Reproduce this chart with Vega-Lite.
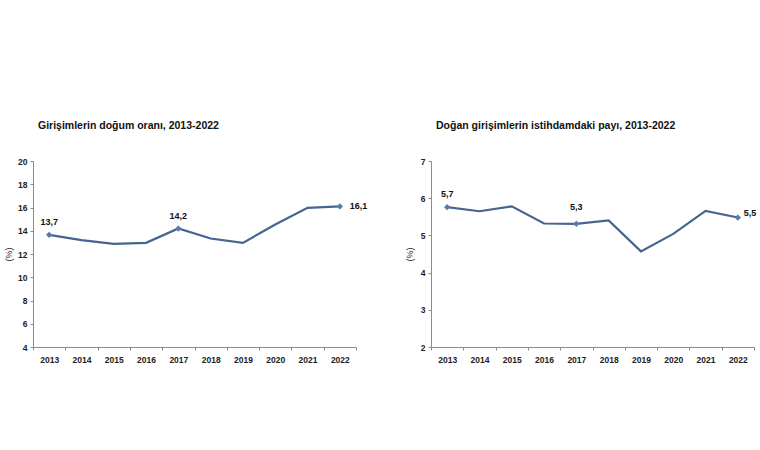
{
  "$schema": "https://vega.github.io/schema/vega-lite/v6.json",
  "background": "white",
  "padding": {"left": 4, "top": 120, "right": 0, "bottom": 0},
  "bounds": "flush",
  "spacing": 75,
  "datasets": {
    "birth": [
      {"year": "2013", "value": 13.65, "label": "13,7"},
      {"year": "2014", "value": 13.19, "label": ""},
      {"year": "2015", "value": 12.87, "label": ""},
      {"year": "2016", "value": 12.96, "label": ""},
      {"year": "2017", "value": 14.19, "label": "14,2"},
      {"year": "2018", "value": 13.33, "label": ""},
      {"year": "2019", "value": 12.96, "label": ""},
      {"year": "2020", "value": 14.54, "label": ""},
      {"year": "2021", "value": 15.97, "label": ""},
      {"year": "2022", "value": 16.09, "label": "16,1"}
    ],
    "share": [
      {"year": "2013", "value": 5.76, "label": "5,7"},
      {"year": "2014", "value": 5.65, "label": ""},
      {"year": "2015", "value": 5.78, "label": ""},
      {"year": "2016", "value": 5.32, "label": ""},
      {"year": "2017", "value": 5.31, "label": "5,3"},
      {"year": "2018", "value": 5.4, "label": ""},
      {"year": "2019", "value": 4.57, "label": ""},
      {"year": "2020", "value": 5.04, "label": ""},
      {"year": "2021", "value": 5.66, "label": ""},
      {"year": "2022", "value": 5.48, "label": "5,5"}
    ]
  },
  "config": {
    "font": "Liberation Sans",
    "view": {"stroke": null},
    "axis": {
      "grid": false,
      "domainColor": "#8c8c8c",
      "tickColor": "#8c8c8c",
      "tickSize": 3,
      "labelFont": "Liberation Sans",
      "labelFontWeight": "bold",
      "labelFontSize": 8.5,
      "labelColor": "#222"
    },
    "title": {
      "font": "Liberation Sans",
      "fontSize": 10.5,
      "fontWeight": "bold",
      "color": "#111",
      "anchor": "start",
      "frame": "group",
      "offset": 26,
      "dx": 5
    }
  },
  "hconcat": [
    {
      "title": "Girişimlerin doğum oranı, 2013-2022",
      "width": 323,
      "height": 186,
      "data": {"name": "birth"},
      "encoding": {
        "x": {"field": "year", "type": "ordinal", "bandPosition": 0.5,
              "scale": {"type": "band", "paddingInner": 0, "paddingOuter": 0},
              "axis": {"title": null, "labelAngle": 0, "tickBand": "extent", "labelPadding": 5}},
        "y": {"field": "value", "type": "quantitative",
              "scale": {"domain": [4, 20], "nice": false, "zero": false},
              "axis": {"title": "(%)", "values": [4, 6, 8, 10, 12, 14, 16, 18, 20], "labelPadding": 3,
                       "titleFontWeight": "normal", "titleFontSize": 9, "titlePadding": 4, "titleColor": "#222"}}
      },
      "layer": [
        {"mark": {"type": "line", "color": "#46648f", "strokeWidth": 2.2}},
        {"transform": [{"filter": "datum.label != ''"}],
         "mark": {"type": "point", "shape": "diamond", "filled": true, "size": 40, "color": "#5b78a8", "opacity": 1}},
        {"transform": [{"filter": "datum.label != '' && datum.year != '2022'"}],
         "mark": {"type": "text", "dy": -13, "fontSize": 9, "fontWeight": "bold", "color": "#111"},
         "encoding": {"text": {"field": "label"}}},
        {"transform": [{"filter": "datum.year == '2022'"}],
         "mark": {"type": "text", "dx": 10, "align": "left", "fontSize": 9, "fontWeight": "bold", "color": "#111"},
         "encoding": {"text": {"field": "label"}}}
      ]
    },
    {
      "title": "Doğan girişimlerin istihdamdaki payı, 2013-2022",
      "width": 323,
      "height": 186,
      "data": {"name": "share"},
      "encoding": {
        "x": {"field": "year", "type": "ordinal", "bandPosition": 0.5,
              "scale": {"type": "band", "paddingInner": 0, "paddingOuter": 0},
              "axis": {"title": null, "labelAngle": 0, "tickBand": "extent", "labelPadding": 5}},
        "y": {"field": "value", "type": "quantitative",
              "scale": {"domain": [2, 7], "nice": false, "zero": false},
              "axis": {"title": "(%)", "values": [2, 3, 4, 5, 6, 7], "labelPadding": 3,
                       "titleFontWeight": "normal", "titleFontSize": 9, "titlePadding": 6, "titleColor": "#222"}}
      },
      "layer": [
        {"mark": {"type": "line", "color": "#46648f", "strokeWidth": 2.2}},
        {"transform": [{"filter": "datum.label != ''"}],
         "mark": {"type": "point", "shape": "diamond", "filled": true, "size": 40, "color": "#5b78a8", "opacity": 1}},
        {"transform": [{"filter": "datum.year == '2013'"}],
         "mark": {"type": "text", "dy": -13, "fontSize": 9, "fontWeight": "bold", "color": "#111"},
         "encoding": {"text": {"field": "label"}}},
        {"transform": [{"filter": "datum.year == '2017'"}],
         "mark": {"type": "text", "dy": -17, "fontSize": 9, "fontWeight": "bold", "color": "#111"},
         "encoding": {"text": {"field": "label"}}},
        {"transform": [{"filter": "datum.year == '2022'"}],
         "mark": {"type": "text", "dx": 6, "dy": -5, "align": "left", "fontSize": 9, "fontWeight": "bold", "color": "#111"},
         "encoding": {"text": {"field": "label"}}}
      ]
    }
  ]
}
